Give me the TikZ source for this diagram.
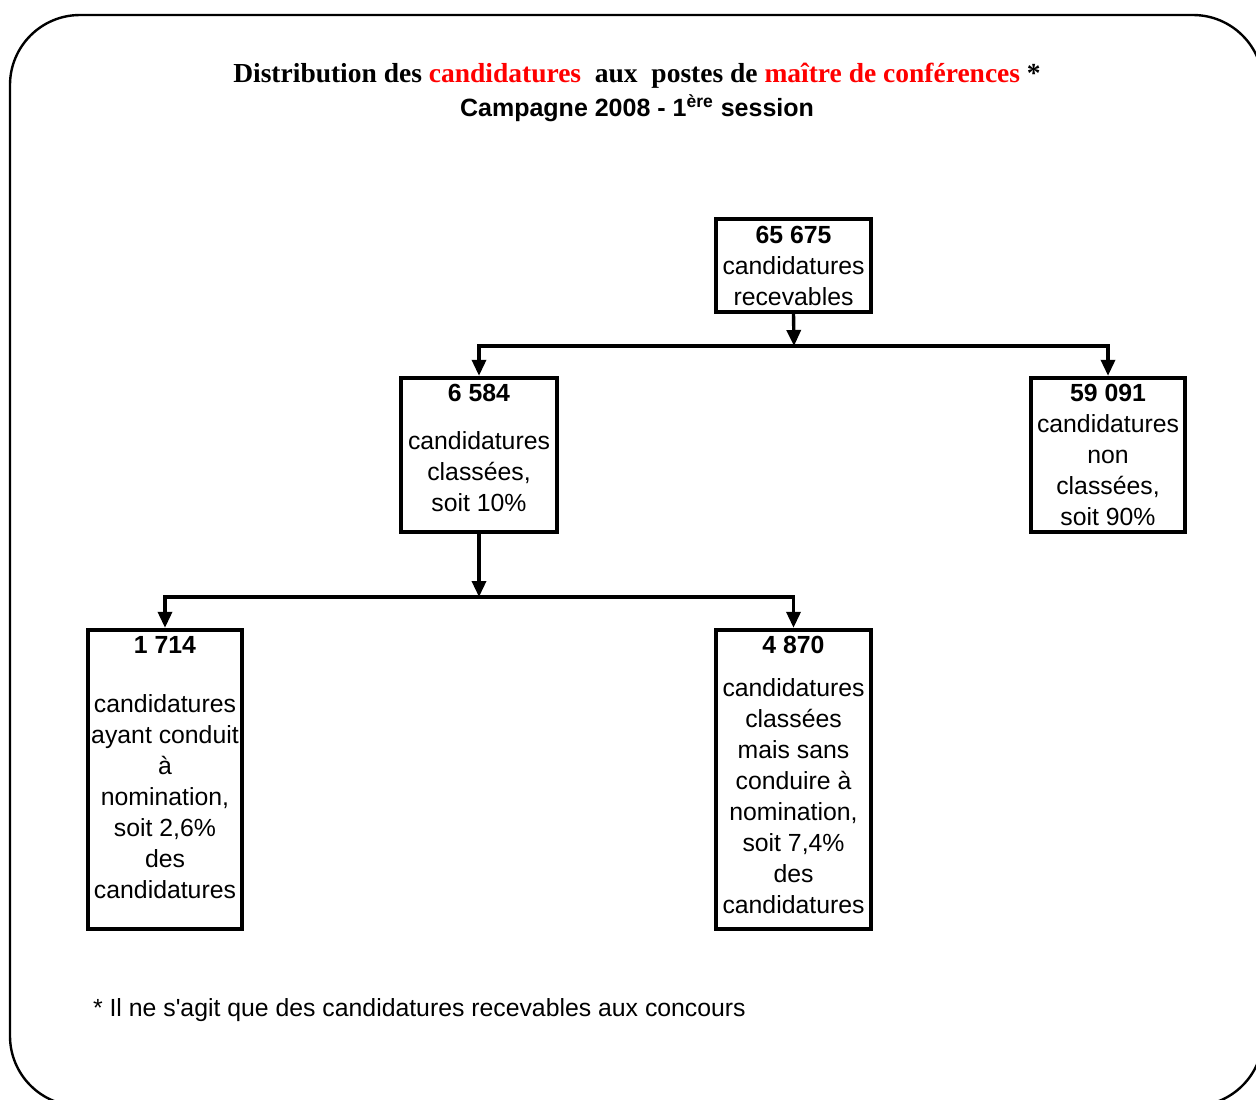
\documentclass[tikz,border=0pt]{standalone}
\usepackage{fontspec}
\setmainfont{Liberation Sans}
\newfontfamily\titleserif{Liberation Serif}
\usetikzlibrary{arrows.meta}
\definecolor{titlered}{RGB}{255,0,0}

\begin{document}
\begin{tikzpicture}[x=0.5pt, y=-0.5pt,
    >={Triangle[width=7pt,length=8pt]},
    countbox/.style={draw, line width=2.2pt, inner sep=0pt, align=center,
      font=\fontsize{12.4}{15.5}\selectfont},
    link/.style={line width=1.7pt}]
  \useasboundingbox (0,0) rectangle (1256,1099);
  \draw[line width=1.2pt, rounded corners=35pt] (10,15) rectangle (1263,1106);
  % titre
  \node[font=\titleserif\bfseries\fontsize{13.75}{16}\selectfont] (title) at (637,76)
    {Distribution des \textcolor{titlered}{candidatures}\ \ aux\ \ postes de \textcolor{titlered}{maître de conférences} *};
  \node[font=\bfseries\fontsize{12.5}{15}\selectfont] (subtitle) at (637,108)
    {Campagne 2008 - 1\textsuperscript{ère} session};
  % boites
  \node[countbox, minimum width=77.5pt, minimum height=46.5pt] (total) at (793.5,265.5)
    {\textbf{65 675}\\candidatures\\recevables};
  \node[countbox, minimum width=78pt, minimum height=77pt] (ranked) at (479,455)
    {\textbf{6 584}\\[8.5pt]candidatures\\classées,\\soit 10\%\\[-8.5pt]\mbox{}};
  \node[countbox, minimum width=77pt, minimum height=77pt] (unranked) at (1108,455)
    {\textbf{59 091}\\candidatures\\non\\classées,\\soit 90\%};
  \node[countbox, minimum width=77pt, minimum height=149.5pt] (named) at (165,779.5)
    {\textbf{1 714}\\[14pt]candidatures\\ayant conduit\\à\\nomination,\\soit 2,6\%\\des\\candidatures\\[-3.5pt]\mbox{}};
  \node[countbox, minimum width=77.5pt, minimum height=149.5pt] (notnamed) at (793.5,779.5)
    {\textbf{4 870}\\[6pt]candidatures\\classées\\mais sans\\conduire à\\nomination,\\soit 7,4\%\\des\\candidatures\\[-11pt]\mbox{}};
  % fleches
  \coordinate (split1) at (794,346);
  \coordinate (split2) at (477,597);
  \draw[link,->] (total.south) -- (split1);
  \draw[link,<->] (ranked.north) |- (split1) -| (unranked.north);
  \draw[link,->] (ranked.south) -- (ranked.south |- split2);
  \draw[link,<->] (named.north) |- (split2) -| (notnamed.north);
  % note
  \node[anchor=west, font=\fontsize{12.4}{15}\selectfont] (note) at (86,1010)
    {* Il ne s\textquotesingle agit que des candidatures recevables aux concours};
\end{tikzpicture}
\end{document}
